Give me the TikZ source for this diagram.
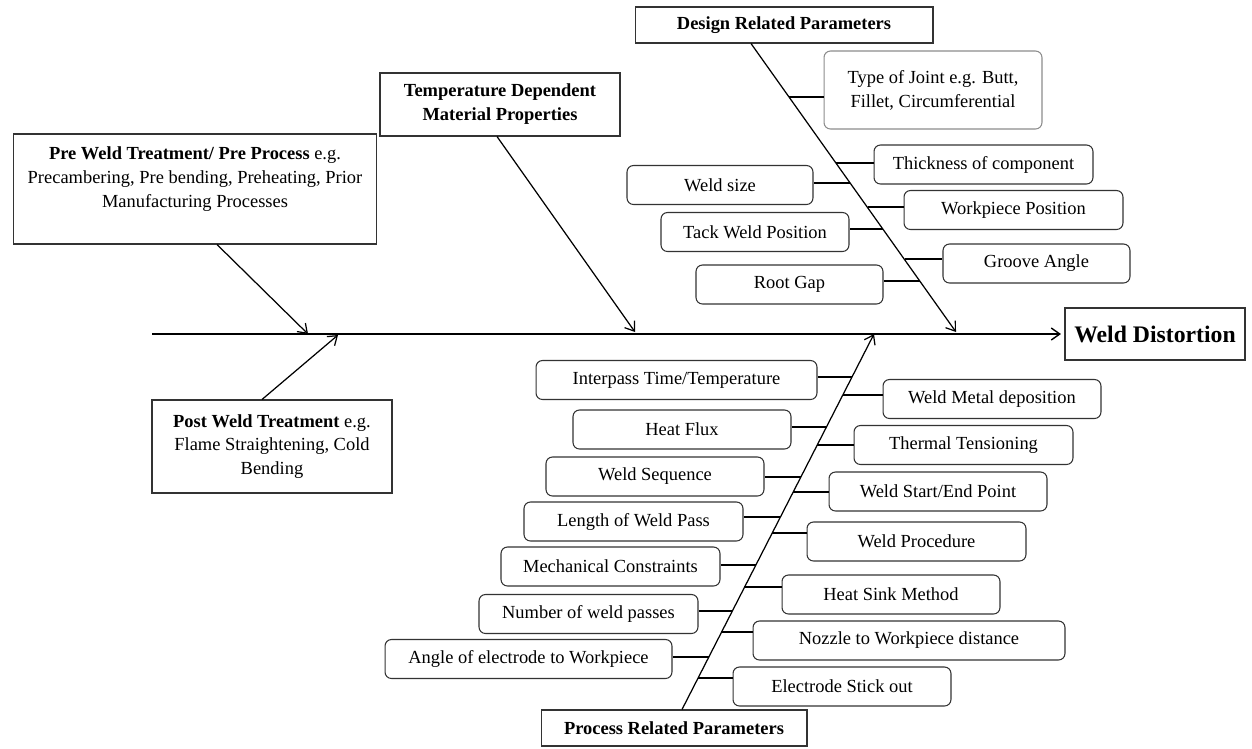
\documentclass[tikz,border=0pt]{standalone}
\usepackage{fontspec}
\setmainfont{Liberation Serif}
\usetikzlibrary{arrows.meta}
\begin{document}
\begin{tikzpicture}[x=0.02cm, y=-0.02cm]
	\tikzset{boite/.style={draw=black!80, line width=0.6pt, inner sep=1pt, align=center, font=\fontsize{10.5}{13.6}\selectfont},
		case/.style={boite, rounded corners=0.13cm, minimum height=0.78cm},
		titre/.style={boite, font=\fontsize{10.5}{13.6}\selectfont\bfseries},
		fleche/.style={line width=0.7pt, -{Straight Barb[length=1.7mm, width=2.4mm]}},
		trait/.style={line width=0.7pt}};

	\useasboundingbox (0,0) rectangle (1252,748);

	% titres
	\node[titre, minimum width=5.96cm, minimum height=0.72cm] (design)  at ( 784,   25) {Design Related Parameters};
	\node[titre, minimum width=4.80cm, minimum height=1.26cm] (temp)    at ( 500,104.5) {Temperature Dependent\\ Material Properties};
	\node[boite, minimum width=7.28cm, minimum height=2.20cm] (pre)     at ( 195,  189) {\textbf{Pre Weld Treatment/ Pre Process} e.g.\\ Precambering, Pre bending, Preheating, Prior\\ Manufacturing Processes\\ \mbox{}};
	\node[boite, minimum width=4.80cm, minimum height=1.86cm] (post)    at ( 272,446.5) {\textbf{Post Weld Treatment} e.g.\\ Flame Straightening, Cold\\ Bending};
	\node[titre, minimum width=5.32cm, minimum height=0.72cm] (process) at ( 674,  728) {Process Related Parameters};
	\node[titre, minimum width=3.60cm, minimum height=1.04cm, font=\fontsize{13.5}{16}\selectfont\bfseries] (wd) at (1155, 334) {Weld Distortion};

	% parametres de conception
	\node[case, draw=black!45, minimum width=4.36cm, minimum height=1.56cm] (joint) at ( 933,   90) {Type of Joint e.g. Butt,\\ Fillet, Circumferential};
	\node[case, minimum width=4.38cm] (thick)  at ( 983.5,164.5) {Thickness of component};
	\node[case, minimum width=3.72cm] (wsize)  at ( 720,   185) {Weld size};
	\node[case, minimum width=4.38cm] (wpos)   at (1013.5, 210) {Workpiece Position};
	\node[case, minimum width=3.76cm] (tack)   at ( 755,   232) {Tack Weld Position};
	\node[case, minimum width=3.74cm] (groove) at (1036.5,263.5) {Groove Angle};
	\node[case, minimum width=3.74cm] (root)   at ( 789.5,284.5) {Root Gap};

	% parametres de procede, a gauche
	\node[case, minimum width=5.62cm] (inter)  at ( 676.5,  380) {Interpass Time/Temperature};
	\node[case, minimum width=4.36cm] (hflux)  at ( 682,  429.5) {Heat Flux};
	\node[case, minimum width=4.36cm] (wseq)   at ( 655,  476.5) {Weld Sequence};
	\node[case, minimum width=4.38cm] (lwp)    at ( 633.5,521.5) {Length of Weld Pass};
	\node[case, minimum width=4.38cm] (mech)   at ( 610.5,566.5) {Mechanical Constraints};
	\node[case, minimum width=4.38cm] (nwp)    at ( 588.5,  614) {Number of weld passes};
	\node[case, minimum width=5.74cm] (angle)  at ( 528.5,  659) {Angle of electrode to Workpiece};

	% parametres de procede, a droite
	\node[case, minimum width=4.36cm] (wmd)    at ( 992,    399) {Weld Metal deposition};
	\node[case, minimum width=4.38cm] (tten)   at ( 963.5,  445) {Thermal Tensioning};
	\node[case, minimum width=4.36cm] (wsep)   at ( 938,  491.5) {Weld Start/End Point};
	\node[case, minimum width=4.38cm] (wproc)  at ( 916.5,541.5) {Weld Procedure};
	\node[case, minimum width=4.36cm] (hsink)  at ( 891,  594.5) {Heat Sink Method};
	\node[case, minimum width=6.24cm] (nozzle) at ( 909,  640.5) {Nozzle to Workpiece distance};
	\node[case, minimum width=4.36cm] (estick) at ( 842,  686.5) {Electrode Stick out};

	% arete principale et aretes
	\coordinate (queue) at (152, 334);
	\coordinate (tpre)  at (308, 334);
	\coordinate (tpost) at (338, 335);
	\coordinate (ttemp) at (635, 332);
	\coordinate (tproc) at (874, 334);
	\coordinate (tdes)  at (956, 332);

	\draw[fleche, line width=0.8pt] (queue) -- ([xshift=-2pt]wd.west);
	\draw[fleche] ([xshift=0.44cm]pre.south) -- (tpre);
	\draw[fleche] ([xshift=-0.20cm]post.north) -- (tpost);
	\draw[fleche] ([xshift=-0.06cm]temp.south) -- (ttemp);
	\draw[fleche] ([xshift=-0.66cm]design.south) -- (tdes);
	\draw[fleche] ([xshift=0.16cm]process.north) -- (tproc);

	% points sur l'arete de conception
	\coordinate (d1) at (789, 97);
	\coordinate (d2) at (836, 163);
	\coordinate (d3) at (850, 183);
	\coordinate (d4) at (868, 207);
	\coordinate (d5) at (883, 229);
	\coordinate (d6) at (905, 259);
	\coordinate (d7) at (920, 281);

	\draw[trait] (d1) -- (d1 -| joint.west);
	\draw[trait] (d2) -- (d2 -| thick.west);
	\draw[trait] (d3) -- (d3 -| wsize.east);
	\draw[trait] (d4) -- (d4 -| wpos.west);
	\draw[trait] (d5) -- (d5 -| tack.east);
	\draw[trait] (d6) -- (d6 -| groove.west);
	\draw[trait] (d7) -- (d7 -| root.east);

	% points sur l'arete de procede
	\coordinate (p1)  at (852, 377);
	\coordinate (p2)  at (826, 427);
	\coordinate (p3)  at (801, 477);
	\coordinate (p4)  at (780, 517);
	\coordinate (p5)  at (756, 565);
	\coordinate (p6)  at (732, 611);
	\coordinate (p7)  at (709, 657);
	\coordinate (p8)  at (843, 395);
	\coordinate (p9)  at (817, 445);
	\coordinate (p10) at (793, 492);
	\coordinate (p11) at (772, 533);
	\coordinate (p12) at (744, 587);
	\coordinate (p13) at (721, 632);
	\coordinate (p14) at (698, 678);

	\draw[trait] (p1)  -- (p1  -| inter.east);
	\draw[trait] (p2)  -- (p2  -| hflux.east);
	\draw[trait] (p3)  -- (p3  -| wseq.east);
	\draw[trait] (p4)  -- (p4  -| lwp.east);
	\draw[trait] (p5)  -- (p5  -| mech.east);
	\draw[trait] (p6)  -- (p6  -| nwp.east);
	\draw[trait] (p7)  -- (p7  -| angle.east);
	\draw[trait] (p8)  -- (p8  -| wmd.west);
	\draw[trait] (p9)  -- (p9  -| tten.west);
	\draw[trait] (p10) -- (p10 -| wsep.west);
	\draw[trait] (p11) -- (p11 -| wproc.west);
	\draw[trait] (p12) -- (p12 -| hsink.west);
	\draw[trait] (p13) -- (p13 -| nozzle.west);
	\draw[trait] (p14) -- (p14 -| estick.west);

\end{tikzpicture}
\end{document}
